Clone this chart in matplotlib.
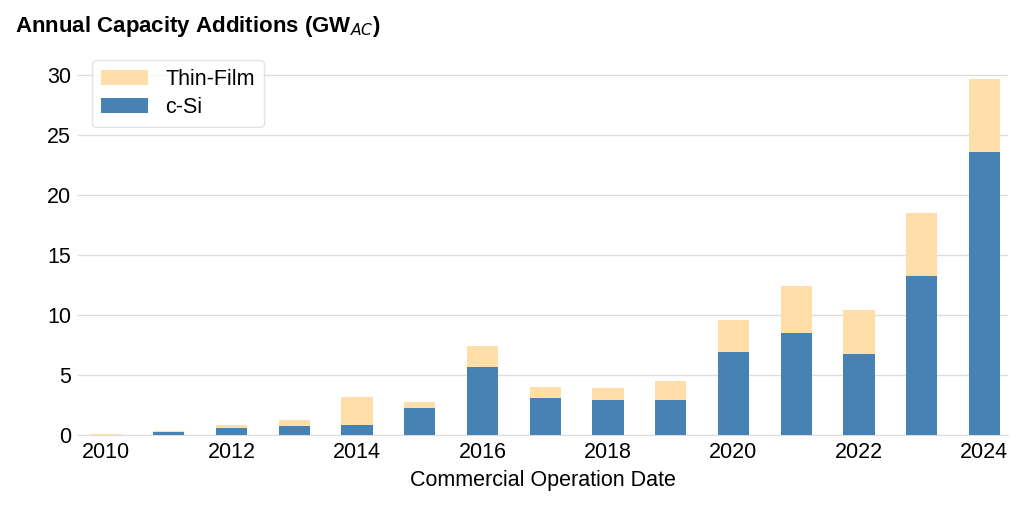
import numpy as np
import matplotlib.pyplot as plt

plt.rcParams['font.family'] = ['Liberation Sans', 'DejaVu Sans']

years = np.arange(2010, 2025)
csi = [0.05, 0.25, 0.6, 0.75, 0.9, 2.25, 5.7, 3.1, 2.95, 2.9, 6.9, 8.55, 6.75, 13.3, 23.6]
total = [0.15, 0.35, 0.85, 1.3, 3.15, 2.8, 7.4, 4.05, 3.9, 4.55, 9.6, 12.45, 10.4, 18.55, 29.7]
thin = [t - c for t, c in zip(total, csi)]

fig = plt.figure(figsize=(10.24, 5.05), dpi=100)
ax = fig.add_axes([0.076, 0.138, 0.908, 0.742])

ax.bar(years, thin, 0.5, bottom=csi, color='#FFDEAA', label='Thin-Film', zorder=3)
ax.bar(years, csi, 0.5, color='#4682B4', label='c-Si', zorder=3)

ax.set_xlim(2009.55, 2024.37)
ax.set_ylim(0, 31.2)
ax.set_yticks(range(0, 31, 5))
ax.set_xticks(range(2010, 2025, 2))
ax.grid(axis='y', color='#dddddd', lw=1, zorder=0)
for s in ['top', 'right', 'left']:
    ax.spines[s].set_visible(False)
ax.spines['bottom'].set_color('#dddddd')
ax.tick_params(length=0, labelsize=15.5, pad=5)
ax.set_xlabel('Commercial Operation Date', fontsize=15.5, labelpad=5)

leg = ax.legend(loc='upper left', fontsize=15.5, frameon=True, borderpad=0.4,
                handlelength=2.2, labelspacing=0.35, bbox_to_anchor=(0.004, 1.03))
leg.get_frame().set_edgecolor('#dddddd')

fig.text(0.015, 0.947, r'Annual Capacity Additions (GW$_{AC}$)', fontsize=16,
         fontweight='bold', ha='left', va='center')

fig.savefig('out.png', dpi=100)
